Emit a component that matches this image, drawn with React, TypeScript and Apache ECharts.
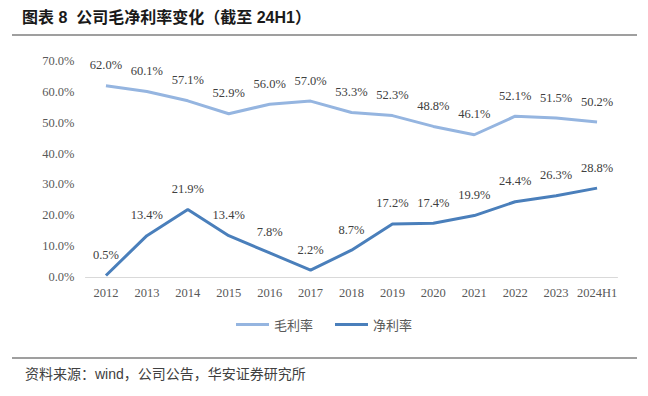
import React, { useEffect, useRef } from "react";
import * as echarts from "echarts";

const categories = ["2012", "2013", "2014", "2015", "2016", "2017", "2018", "2019", "2020", "2021", "2022", "2023", "2024H1"];
const grossMargin = [62.0, 60.1, 57.1, 52.9, 56.0, 57.0, 53.3, 52.3, 48.8, 46.1, 52.1, 51.5, 50.2];
const netMargin = [0.5, 13.4, 21.9, 13.4, 7.8, 2.2, 8.7, 17.2, 17.4, 19.9, 24.4, 26.3, 28.8];
const seriesNames = ["毛利率", "净利率"];
const titleText = "图表 8  公司毛净利率变化（截至 24H1）";
const sourceText = "资料来源：wind，公司公告，华安证券研究所";

export default function App() {
  const ref = useRef<HTMLDivElement>(null);
  useEffect(() => {
    if (!ref.current) return;
    const chart = echarts.init(ref.current, null, { renderer: "svg" });
    const serif = "'Liberation Serif', 'Times New Roman', serif";
    const labelStyle = {
      show: true,
      position: "top" as const,
      distance: 14,
      fontFamily: serif,
      fontSize: 12.5,
      color: "#404040",
      formatter: (p: any) => Number(p.value).toFixed(1) + "%",
    };
    chart.setOption({
      animation: false,
      backgroundColor: "#ffffff",
      grid: { left: 85.5, right: 30.5, top: 61, bottom: 119, containLabel: false },
      xAxis: {
        type: "category",
        data: categories,
        boundaryGap: true,
        axisLine: { lineStyle: { color: "#d9d9d9", width: 1 } },
        axisTick: { show: false },
        axisLabel: { interval: 0, fontFamily: serif, fontSize: 12.5, color: "#595959", margin: 9 },
      },
      yAxis: {
        type: "value",
        min: 0,
        max: 70,
        interval: 10,
        splitLine: { show: false },
        axisLine: { show: false },
        axisTick: { show: false },
        axisLabel: {
          fontFamily: serif,
          fontSize: 12.5,
          color: "#595959",
          margin: 11,
          formatter: (v: number) => v.toFixed(1) + "%",
        },
      },
      legend: {
        bottom: 60,
        left: "center",
        itemWidth: 33,
        itemHeight: 3,
        itemGap: 22,
        icon: "rect",
        textStyle: { fontFamily: "'Noto Sans CJK SC', sans-serif", fontSize: 13, color: "#595959" },
        data: seriesNames,
      },
      series: [
        {
          name: seriesNames[0],
          type: "line",
          data: grossMargin,
          symbol: "circle",
          symbolSize: 0.1,
          showSymbol: true,
          lineStyle: { color: "#95B5E0", width: 3 },
          itemStyle: { color: "#95B5E0" },
          label: labelStyle,
        },
        {
          name: seriesNames[1],
          type: "line",
          data: netMargin,
          symbol: "circle",
          symbolSize: 0.1,
          showSymbol: true,
          lineStyle: { color: "#4A7FBB", width: 3 },
          itemStyle: { color: "#4A7FBB" },
          label: labelStyle,
        },
      ],
      graphic: [
        {
          type: "text",
          left: 22,
          top: 9,
          style: {
            text: titleText,
            fontFamily: "'Liberation Sans', 'Noto Sans CJK SC', sans-serif",
            fontWeight: "bold",
            fontSize: 16,
            fill: "#1a1a1a",
          },
        },
        {
          type: "line",
          shape: { x1: 12, y1: 35, x2: 637, y2: 35 },
          style: { stroke: "#404040", lineWidth: 1.2 },
        },
        {
          type: "line",
          shape: { x1: 12, y1: 358, x2: 637, y2: 358 },
          style: { stroke: "#404040", lineWidth: 1.2 },
        },
        {
          type: "text",
          left: 25,
          top: 367,
          style: {
            text: sourceText,
            fontFamily: "'Liberation Sans', 'Noto Sans CJK SC', sans-serif",
            fontSize: 14,
            fill: "#404040",
          },
        },
      ],
    });
    return () => chart.dispose();
  }, []);
  return <div ref={ref} style={{ width: 648, height: 396, position: "absolute", left: 0, top: 0 }} />;
}
